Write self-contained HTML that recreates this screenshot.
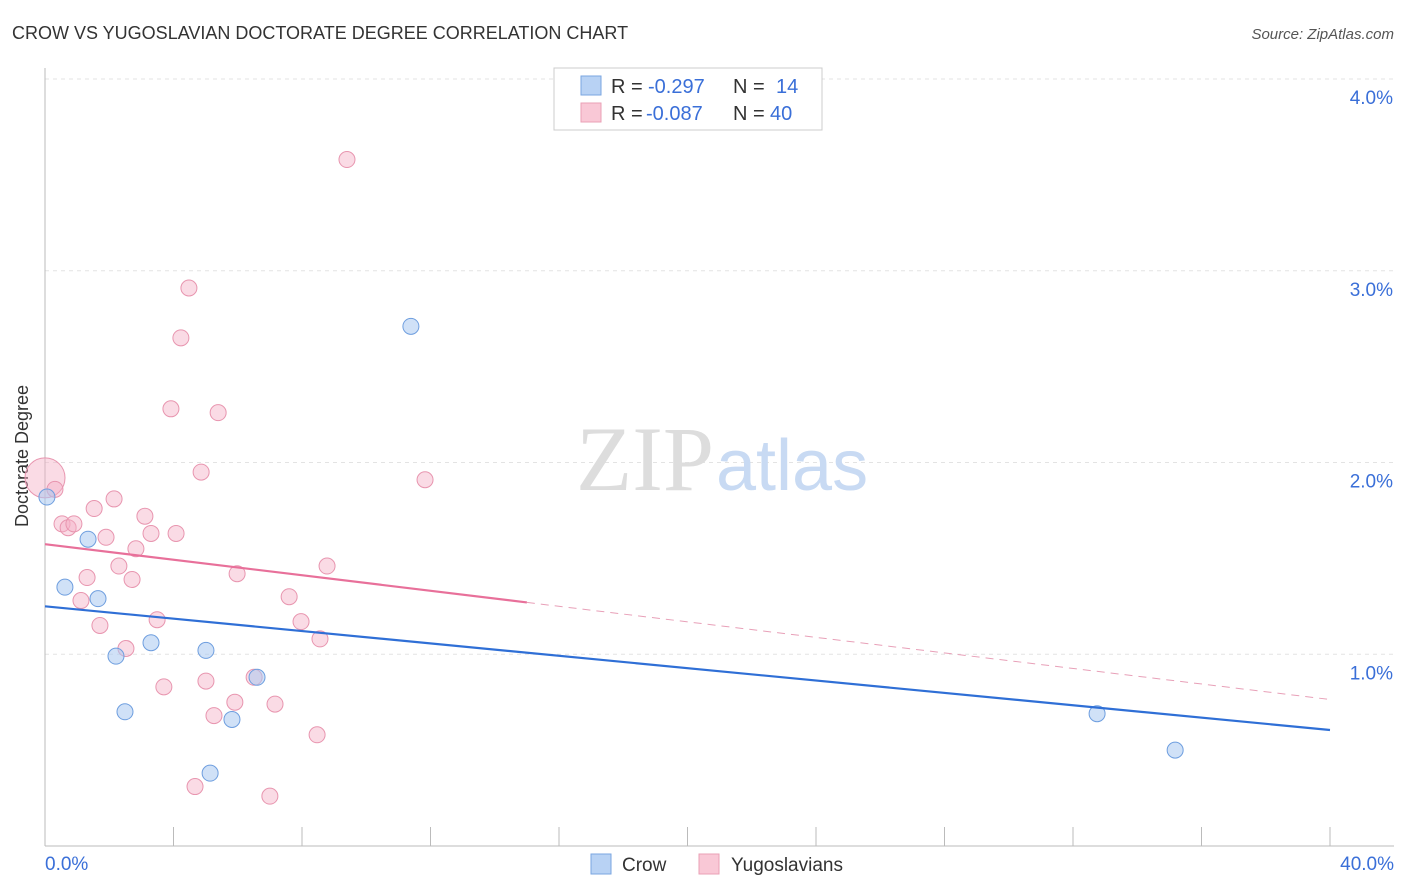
<!DOCTYPE html>
<html><head><meta charset="utf-8">
<style>
body{margin:0;background:#fff;font-family:"Liberation Sans",sans-serif;}
#wrap{position:relative;width:1406px;height:892px;overflow:hidden;}
</style></head>
<body>
<div id="wrap">
<svg id="svg" width="1406" height="892" xmlns="http://www.w3.org/2000/svg">
<text x="12" y="39" font-size="18" fill="#333">CROW VS YUGOSLAVIAN DOCTORATE DEGREE CORRELATION CHART</text>
<text x="1394" y="39" font-size="15" fill="#555" text-anchor="end" font-style="italic">Source: ZipAtlas.com</text>
<text x="28" y="456" font-size="18" fill="#333" text-anchor="middle" transform="rotate(-90 28 456)">Doctorate Degree</text>
<g id="grid"></g>
<text x="714" y="490" font-size="92" fill="#ddd" text-anchor="end" font-family="Liberation Serif">ZIP</text>
<text x="716" y="490" font-size="72" fill="#c8daf3">atlas</text>
<g id="marks"></g>
<g>
<rect x="554" y="68" width="268" height="62" fill="#fff" stroke="#ccc"/>
<rect x="581" y="76" width="20" height="19" fill="#b8d2f4" stroke="#7aa6e0"/>
<rect x="581" y="103" width="20" height="19" fill="#f9c8d6" stroke="#eaa0b6"/>
<text x="611" y="93" font-size="20" fill="#333">R =</text>
<text x="648" y="93" font-size="20" fill="#3a6fd8">-0.297</text>
<text x="733" y="93" font-size="20" fill="#333">N =</text>
<text x="776" y="93" font-size="20" fill="#3a6fd8">14</text>
<text x="611" y="120" font-size="20" fill="#333">R =</text>
<text x="646" y="120" font-size="20" fill="#3a6fd8">-0.087</text>
<text x="733" y="120" font-size="20" fill="#333">N =</text>
<text x="770" y="120" font-size="20" fill="#3a6fd8">40</text>
</g>
<g>
<rect x="591" y="854" width="20" height="20" fill="#b8d2f4" stroke="#7aa6e0"/>
<text x="622" y="871" font-size="19" fill="#333">Crow</text>
<rect x="699" y="854" width="20" height="20" fill="#f9c8d6" stroke="#eaa0b6"/>
<text x="731" y="871" font-size="19" fill="#333">Yugoslavians</text>
</g>
</svg>
</div>
<script>
const yTicks=[1,2,3,4];
const yTickLabels=["1.0%","2.0%","3.0%","4.0%"];
const xTickCount=10;
const crowX=[0.06,1.34,0.62,1.65,2.21,3.30,5.01,6.60,2.49,5.82,5.14,11.39,32.75,35.18];
const crowY=[1.82,1.60,1.35,1.29,0.99,1.06,1.02,0.88,0.70,0.66,0.38,2.71,0.69,0.50];
const yugoX=[0.0,0.31,0.53,0.72,0.90,1.53,2.15,1.90,3.11,3.30,4.08,2.83,1.31,2.30,2.71,5.98,1.12,1.71,3.49,2.52,7.60,7.97,8.56,8.78,3.70,5.01,6.51,5.26,5.91,7.16,8.47,4.67,7.00,3.92,5.39,4.86,4.23,4.48,9.40,11.83];
const yugoY=[1.92,1.86,1.68,1.66,1.68,1.76,1.81,1.61,1.72,1.63,1.63,1.55,1.40,1.46,1.39,1.42,1.28,1.15,1.18,1.03,1.30,1.17,1.08,1.46,0.83,0.86,0.88,0.68,0.75,0.74,0.58,0.31,0.26,2.28,2.26,1.95,2.65,2.91,3.58,1.91];
const crowTrend=[1.25,0.605];
const yugoTrend=[1.574,0.764];
const yugoSolidEnd=15;

const X=v=>45+v*32.125;
const Y=v=>846-v*191.75;
const NS="http://www.w3.org/2000/svg";
function mk(t,a,p){const e=document.createElementNS(NS,t);for(const k in a)e.setAttribute(k,a[k]);p.appendChild(e);return e;}
const grid=document.getElementById('grid'),marks=document.getElementById('marks');
yTicks.forEach((t,i)=>{
  const l=mk('line',{x1:45,x2:1394,y1:Y(t),y2:Y(t),stroke:'#e3e3e3','stroke-dasharray':'4,4'},grid);
  
  
  const tx=mk('text',{x:1393,y:Y(t)+25,'font-size':19,fill:'#3a6fd8','text-anchor':'end'},grid);
  tx.textContent=yTickLabels[i];
  
  
});
const ax=mk('line',{x1:45,x2:1394,y1:846,y2:846,stroke:'#bbb'},grid);


const ay=mk('line',{x1:45,x2:45,y1:68,y2:846,stroke:'#bbb'},grid);


for(let i=0;i<=xTickCount;i++){
  const v=i*40/xTickCount;
  const t=mk('line',{x1:X(v),x2:X(v),y1:827,y2:846,stroke:'#bbb'},grid);
  
  
}
[["0.0%",45,'start'],["40.0%",1394,'end']].forEach(d=>{
  const t=mk('text',{x:d[1],y:870,'font-size':19,fill:'#3a6fd8','text-anchor':d[2]},grid);
  t.textContent=d[0];
  
  
});
yugoX.forEach((x,i)=>{
  const c=mk('circle',{cx:X(x),cy:Y(yugoY[i]),r:i===0?20:8,fill:'rgba(245,176,198,0.45)',stroke:'#e895af','stroke-width':1},marks);
  
  
});
crowX.forEach((x,i)=>{
  const c=mk('circle',{cx:X(x),cy:Y(crowY[i]),r:8,fill:'rgba(170,200,240,0.55)',stroke:'#6e9edf','stroke-width':1},marks);
  
  
});
const yAt=f=>yugoTrend[0]+(yugoTrend[1]-yugoTrend[0])*f/40;
const l1=mk('line',{x1:X(0),y1:Y(yugoTrend[0]),x2:X(yugoSolidEnd),y2:Y(yAt(yugoSolidEnd)),stroke:'#e8709a','stroke-width':2.2},marks);


const l2=mk('line',{x1:X(yugoSolidEnd),y1:Y(yAt(yugoSolidEnd)),x2:X(40),y2:Y(yugoTrend[1]),stroke:'#e8a0b8','stroke-width':1,'stroke-dasharray':'8,6'},marks);


const l3=mk('line',{x1:X(0),y1:Y(crowTrend[0]),x2:X(40),y2:Y(crowTrend[1]),stroke:'#2f6fd6','stroke-width':2.2},marks);


</script>
</body></html>
